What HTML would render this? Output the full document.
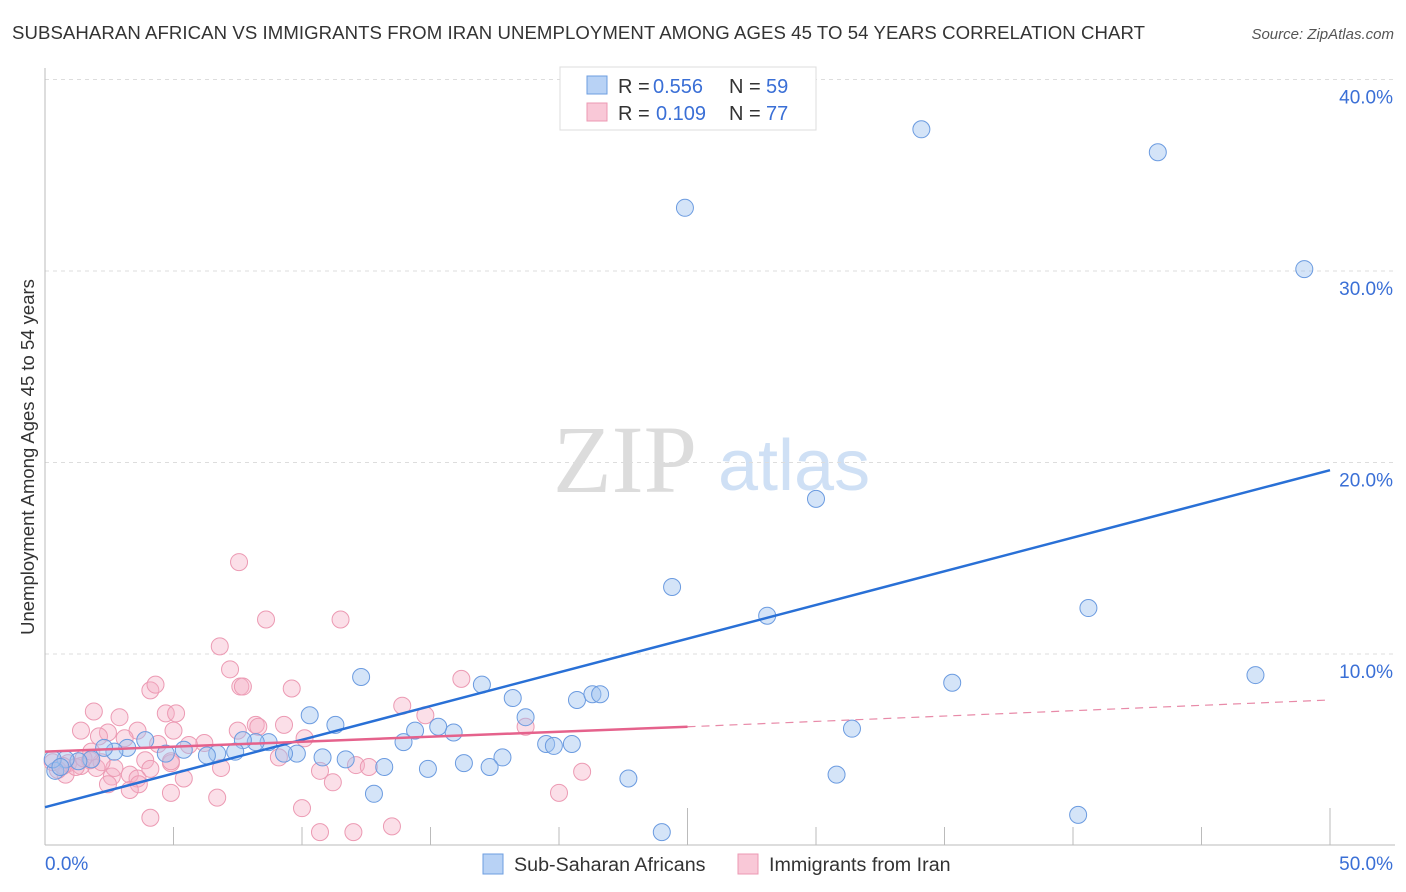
<!DOCTYPE html>
<html><head><meta charset="utf-8"><style>
body{margin:0;background:#fff;font-family:"Liberation Sans",sans-serif;}
svg{display:block}
</style></head><body>
<svg id="chart" width="1406" height="892">
<text x="12" y="39" font-size="18.6" fill="#333" textLength="1133">SUBSAHARAN AFRICAN VS IMMIGRANTS FROM IRAN UNEMPLOYMENT AMONG AGES 45 TO 54 YEARS CORRELATION CHART</text>
<text x="1394" y="39" font-size="15" fill="#555" font-style="italic" text-anchor="end">Source: ZipAtlas.com</text>
<text transform="translate(34,457) rotate(-90)" font-size="18.5" fill="#333" text-anchor="middle">Unemployment Among Ages 45 to 54 years</text>
<g>
<text x="553" y="492" font-size="96" font-family="Liberation Serif,serif" fill="#dcdcdc">ZIP</text>
<text x="718" y="490" font-size="72" fill="#cfe0f5">atlas</text>
</g>
<g id="grid"></g><g id="pts"></g><g id="lines"></g>
<g>
<rect x="560" y="67" width="256" height="63" fill="#fff" stroke="#ddd"/>
<rect x="587" y="76" width="20" height="18" fill="#b8d2f5" stroke="#6d9ee0"/>
<rect x="587" y="103" width="20" height="18" fill="#f9c8d7" stroke="#ec99b3"/>
<g font-size="20" fill="#333">
<text x="618" y="93">R =</text><text x="653" y="93" fill="#3a6fd6">0.556</text><text x="729" y="93">N =</text><text x="766" y="93" fill="#3a6fd6">59</text>
<text x="618" y="120">R =</text><text x="656" y="120" fill="#3a6fd6">0.109</text><text x="729" y="120">N =</text><text x="766" y="120" fill="#3a6fd6">77</text>
</g>
</g>
<g>
<rect x="483" y="854" width="20" height="20" fill="#b8d2f5" stroke="#6d9ee0"/>
<text x="514" y="871" font-size="19.7" fill="#333">Sub-Saharan Africans</text>
<rect x="738" y="854" width="20" height="20" fill="#f9c8d7" stroke="#ec99b3"/>
<text x="769" y="871" font-size="19.7" fill="#333">Immigrants from Iran</text>
</g>
</svg>
<script>
const yTicks=[10,20,30,40];
const xTickVals=[0,5,10,15,20,25,30,35,40,45,50];
const blueX=[24.9,34.1,43.3,49.0,30.0,24.4,28.1,40.6,35.3,47.1,31.4,30.8,40.2,24.0,22.7,12.3,17.0,18.2,20.7,21.3,21.6,18.7,10.3,11.3,15.9,14.4,15.3,13.95,19.5,19.8,20.5,17.8,17.3,16.3,14.9,13.2,12.8,11.7,10.8,9.8,9.3,8.7,8.2,7.7,7.4,6.7,6.3,5.4,4.7,3.9,3.2,2.7,2.3,1.8,1.3,0.8,0.4,0.3,0.6];
const blueY=[33.3,37.4,36.2,30.1,18.1,13.5,12.0,12.4,8.5,8.9,6.1,3.7,1.6,0.7,3.5,8.8,8.4,7.7,7.6,7.9,7.9,6.7,6.8,6.3,5.9,6.0,6.2,5.4,5.3,5.2,5.3,4.6,4.1,4.3,4.0,4.1,2.7,4.5,4.6,4.8,4.8,5.4,5.4,5.5,4.9,4.8,4.7,5.0,4.8,5.5,5.1,4.9,5.1,4.5,4.4,4.5,3.9,4.5,4.1];
const pinkX=[7.55,8.6,11.5,6.8,7.2,7.6,7.7,9.6,4.1,4.3,1.9,4.7,5.1,13.9,16.2,14.8,1.4,2.45,2.9,3.6,5.0,8.2,9.3,10.1,18.7,6.2,3.1,2.1,4.4,5.6,9.1,12.1,12.6,20.9,10.7,11.2,6.85,4.9,3.9,2.6,3.3,4.1,2.7,3.6,2.0,2.2,0.8,0.9,0.5,0.3,1.4,1.75,5.4,2.45,3.65,4.9,6.7,3.3,4.9,7.5,8.3,4.1,10.0,10.7,12.0,13.5,20.0,1.2,1.5,0.7,1.8];
const pinkY=[14.8,11.8,11.8,10.4,9.2,8.3,8.3,8.2,8.1,8.4,7.0,6.9,6.9,7.3,8.7,6.8,6.0,5.9,6.7,6.0,6.0,6.3,6.3,5.6,6.2,5.35,5.6,5.7,5.3,5.25,4.6,4.2,4.1,3.85,3.9,3.3,4.05,4.3,4.45,3.6,3.7,4.0,4.05,3.5,4.05,4.35,3.7,4.3,3.95,4.35,4.15,4.45,3.5,3.2,3.2,2.75,2.5,2.9,4.4,6.0,6.2,1.45,1.95,0.7,0.7,1.0,2.75,4.1,4.55,4.15,4.9];
const blueTrend=[2.0,19.6];
const pinkTrend=[4.9,6.2,7.6];
const X=v=>45+v*25.7, Y=v=>845.5-v*19.15;
const NS='http://www.w3.org/2000/svg';
function mk(t,a,p){const e=document.createElementNS(NS,t);for(const k in a)e.setAttribute(k,a[k]);p.appendChild(e);return e;}
const g=document.getElementById('grid');
yTicks.forEach(v=>{
 const l=mk('line',{x1:45,x2:1395,y1:Y(v),y2:Y(v),stroke:'#ddd','stroke-dasharray':'4,4'},g);
 
 
 const t=mk('text',{x:1393,y:Y(v)+24,'font-size':19,fill:'#3a6fd6','text-anchor':'end'},g);
 t.textContent=v.toFixed(1)+'%';
 
 
});
const ax=mk('line',{x1:45,x2:45,y1:68,y2:845,stroke:'#bbb'},g);


const bx=mk('line',{x1:45,x2:1395,y1:845,y2:845,stroke:'#bbb'},g);


xTickVals.forEach((v,i)=>{
 const tk=mk('line',{x1:X(v),x2:X(v),y1:(i%5==0?808:827),y2:845,stroke:'#bbb'},g);
 
 
});
[[0,'0.0%','start',45],[50,'50.0%','end',1393]].forEach(d=>{
 const t=mk('text',{x:d[3],y:870,'font-size':19,fill:'#3a6fd6','text-anchor':d[2]},g);
 t.textContent=d[1];
 
 
});
const p=document.getElementById('pts');
pinkX.forEach((x,i)=>{
 const c=mk('circle',{cx:X(x),cy:Y(pinkY[i]),r:8.5,fill:'rgba(246,175,198,0.4)',stroke:'#ec9ab3','stroke-width':1},p);
 
 
});
blueX.forEach((x,i)=>{
 const c=mk('circle',{cx:X(x),cy:Y(blueY[i]),r:8.5,fill:'rgba(160,196,240,0.45)',stroke:'#6b9be0','stroke-width':1},p);
 
 
});
const L=document.getElementById('lines');
const bl=mk('line',{x1:X(0),y1:Y(blueTrend[0]),x2:X(50),y2:Y(blueTrend[1]),stroke:'#2970d6','stroke-width':2.5},L);


const pl=mk('line',{x1:X(0),y1:Y(pinkTrend[0]),x2:X(25),y2:Y(pinkTrend[1]),stroke:'#e5628c','stroke-width':2.5},L);


const pd=mk('line',{x1:X(25),y1:Y(pinkTrend[1]),x2:X(50),y2:Y(pinkTrend[2]),stroke:'#e88aa8','stroke-width':1.2,'stroke-dasharray':'8,6'},L);


</script>
</body></html>
